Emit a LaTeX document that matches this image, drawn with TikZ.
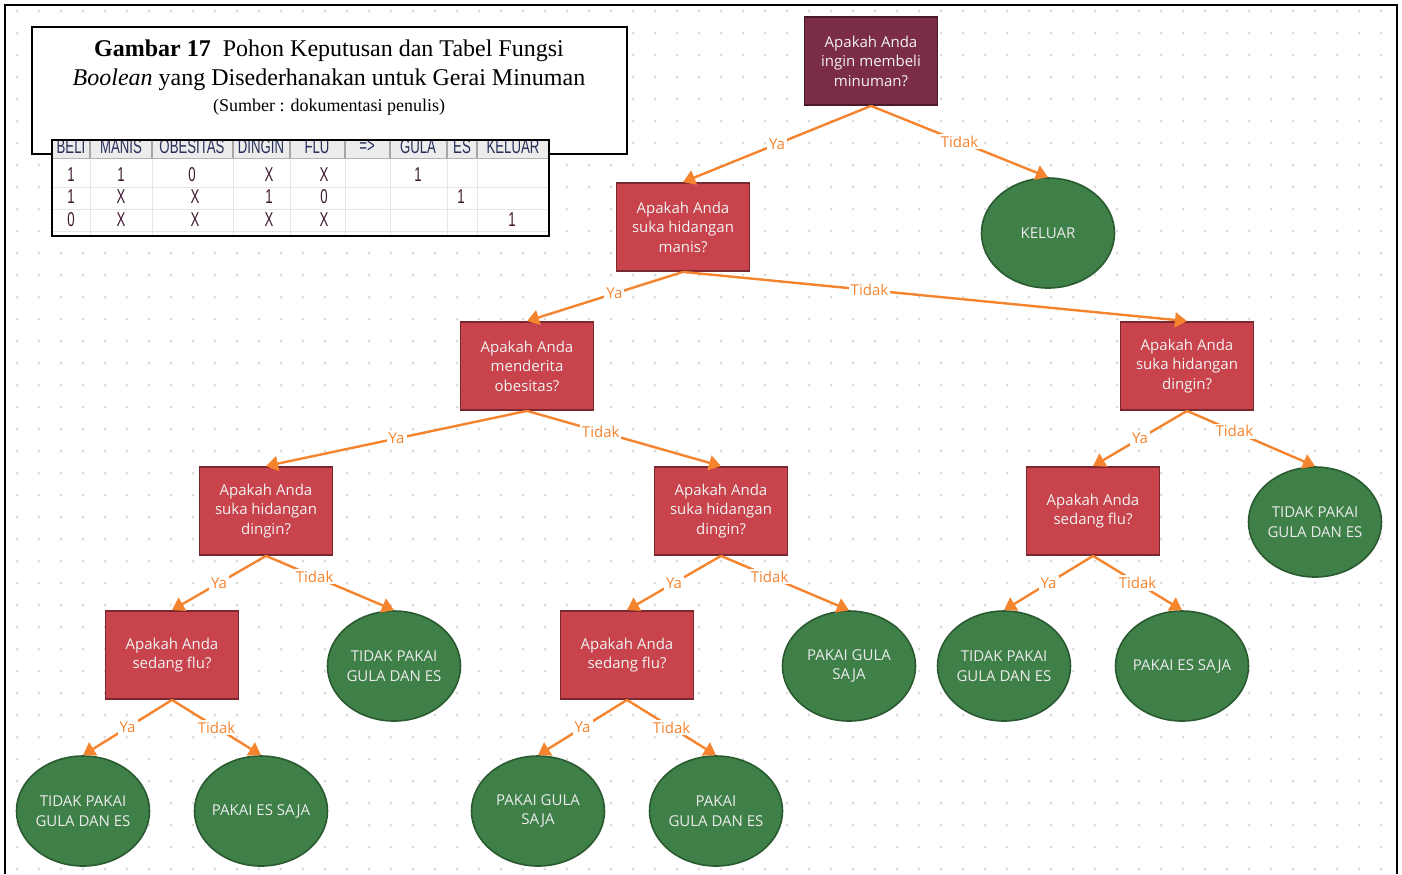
\documentclass[tikz,border=0pt]{standalone}
\usepackage{fontspec}
\setmainfont{Liberation Serif}
\newfontfamily\pohonfont{Open Sans}
\newfontfamily\tabelfont[FakeStretch=0.66]{Liberation Sans}
\usepackage{tikz}
\usetikzlibrary{arrows.meta}
\usetikzlibrary{shapes,backgrounds}
\usetikzlibrary{positioning}
\usetikzlibrary{calc}

\definecolor{marun}{HTML}{7B2D46}
\definecolor{maruntua}{HTML}{4A1A2A}
\definecolor{merah}{HTML}{C8434C}
\definecolor{merahtua}{HTML}{7A2830}
\definecolor{hijau}{HTML}{3F8049}
\definecolor{hijautua}{HTML}{2A5A30}
\definecolor{oranye}{HTML}{F5842F}
\definecolor{titik}{HTML}{D9D9D9}
\definecolor{kepalaisi}{HTML}{ECECEC}
\definecolor{kepalateks}{HTML}{28305A}
\definecolor{selteks}{HTML}{3E1830}

\tikzset{
  tanya/.style={draw=merahtua,line width=0.9pt,fill=merah,minimum width=66.5pt,minimum height=44pt,
    align=center,text=white!95!black,font=\pohonfont\fontsize{7.5}{9.75}\selectfont},
  daun/.style={ellipse,draw=hijautua,line width=0.8pt,fill=hijau,minimum width=66.5pt,minimum height=55pt,
    inner ysep=0pt,inner xsep=-2.5pt,align=center,text=white!92!black,font=\pohonfont\fontsize{7.5}{9.75}\selectfont},
  panah/.style={draw=oranye,line width=1.2pt,-{Triangle[width=7.5pt,length=6pt]}},
  ket/.style={fill=white,text=oranye,inner sep=1pt,font=\pohonfont\fontsize{7.5}{9}\selectfont},
  kepala/.style={text=kepalateks,inner sep=0pt,font=\tabelfont\fontsize{10}{11}\selectfont},
  sel/.style={text=selteks,inner sep=0pt,font=\tabelfont\fontsize{10}{11}\selectfont},
}

\begin{document}
\begin{tikzpicture}[x=0.5pt,y=-0.5pt]
	\useasboundingbox (0,0) rectangle (1402,874);
	\fill[white] (0,0) rectangle (1402,874);
	% titik latar
	\foreach \i in {0,...,62}
	\foreach \j in {0,...,39}
	\fill[titik] (17+22*\i,11+22*\j) circle[radius=0.75pt];
	\draw[line width=1pt] (5,874) -- (5,5) -- (1397,5) -- (1397,874);

	% judul gambar
	\node[draw,fill=white,line width=1pt,minimum width=297.5pt,minimum height=63.5pt] (judul) at (329.5,90.5) {};
	\node[font=\fontsize{12}{14}\selectfont] (J1) at (329,51) {\textbf{Gambar 17}\ \ Pohon Keputusan dan Tabel Fungsi};
	\node[font=\fontsize{12}{14}\selectfont] (J2) at (329,80) {\textit{Boolean} yang Disederhanakan untuk Gerai Minuman};
	\node[font=\fontsize{9}{11}\selectfont] (J3) at (329,107) {(Sumber : dokumentasi penulis)};

	% tabel fungsi boolean
	\fill[white] (52,140) rectangle (549,236);
	\fill[kepalaisi] (52,140) rectangle (549,158);
	\foreach \x in {90,152,233,290,345,390,447,477} {
		\draw[gray!70,line width=0.6pt] (\x,140) -- (\x,158);
		\draw[gray!20,line width=0.5pt] (\x,158) -- (\x,236);
	}
	\foreach \y in {187,209,231}
	\draw[gray!20,line width=0.5pt] (52,\y) -- (549,\y);
	\draw[gray!60,line width=0.5pt] (52,158) -- (549,158);
	\begin{scope}
		\clip (52,140) rectangle (549,236);
		\foreach \x/\t [count=\k] in {71/BELI,121/MANIS,192/OBESITAS,261/DINGIN,317/FLU,367/{=>},418/GULA,462/ES,513/KELUAR}
		\node[kepala] (h\k) at (\x,147) {\t};
	\end{scope}
	\foreach \x/\v [count=\k] in {71/1,121/1,192/0,269/X,324/X,418/1}
	\node[sel] (a\k) at (\x,175) {\v};
	\foreach \x/\v [count=\k] in {71/1,121/X,195/X,269/1,324/0,461/1}
	\node[sel] (b\k) at (\x,197) {\v};
	\foreach \x/\v [count=\k] in {71/0,121/X,195/X,269/X,324/X,512/1}
	\node[sel] (c\k) at (\x,220) {\v};
	\draw[line width=1pt] (52,140) rectangle (549,236);

	% pohon keputusan
	\node[tanya,fill=marun,draw=maruntua] (N1) at (871,61) {Apakah Anda\\ingin membeli\\minuman?};
	\node[tanya] (N2) at (683,227) {Apakah Anda\\suka hidangan\\manis?};
	\node[daun] (L1) at (1048,233) {KELUAR};
	\node[tanya] (N3) at (527,366) {Apakah Anda\\menderita\\obesitas?};
	\node[tanya] (N4) at (1187,366) {Apakah Anda\\suka hidangan\\dingin?};
	\node[tanya] (N5) at (266,511) {Apakah Anda\\suka hidangan\\dingin?};
	\node[tanya] (N6) at (721,511) {Apakah Anda\\suka hidangan\\dingin?};
	\node[tanya] (N7) at (1093,511) {Apakah Anda\\sedang flu?};
	\node[daun] (L2) at (1315,522) {TIDAK PAKAI\\GULA DAN ES};
	\node[tanya] (N8) at (172,655) {Apakah Anda\\sedang flu?};
	\node[daun] (L3) at (394,666) {TIDAK PAKAI\\GULA DAN ES};
	\node[tanya] (N9) at (627,655) {Apakah Anda\\sedang flu?};
	\node[daun] (L4) at (849,666) {PAKAI GULA\\SAJA};
	\node[daun] (L5) at (1004,666) {TIDAK PAKAI\\GULA DAN ES};
	\node[daun] (L6) at (1182,666) {PAKAI ES SAJA};
	\node[daun] (L7) at (83,811) {TIDAK PAKAI\\GULA DAN ES};
	\node[daun] (L8) at (261,811) {PAKAI ES SAJA};
	\node[daun] (L9) at (538,811) {PAKAI GULA\\SAJA};
	\node[daun] (L10) at (716,811) {PAKAI\\GULA DAN ES};

	\draw[panah] (N1.south) -- node[ket]{Ya} (N2.north);
	\draw[panah] (N1.south) -- node[ket]{Tidak} (L1.north);
	\draw[panah] (N2.south) -- node[ket,pos=0.44]{Ya} (N3.north);
	\draw[panah] (N2.south) -- node[ket,pos=0.37]{Tidak} (N4.north);
	\draw[panah] (N3.south) -- node[ket]{Ya} (N5.north);
	\draw[panah] (N3.south) -- node[ket,pos=0.38]{Tidak} (N6.north);
	\draw[panah] (N4.south) -- node[ket]{Ya} (N7.north);
	\draw[panah] (N4.south) -- node[ket,pos=0.37]{Tidak} (L2.north);
	\draw[panah] (N5.south) -- node[ket]{Ya} (N8.north);
	\draw[panah] (N5.south) -- node[ket,pos=0.38]{Tidak} (L3.north);
	\draw[panah] (N6.south) -- node[ket]{Ya} (N9.north);
	\draw[panah] (N6.south) -- node[ket,pos=0.38]{Tidak} (L4.north);
	\draw[panah] (N7.south) -- node[ket]{Ya} (L5.north);
	\draw[panah] (N7.south) -- node[ket]{Tidak} (L6.north);
	\draw[panah] (N8.south) -- node[ket]{Ya} (L7.north);
	\draw[panah] (N8.south) -- node[ket]{Tidak} (L8.north);
	\draw[panah] (N9.south) -- node[ket]{Ya} (L9.north);
	\draw[panah] (N9.south) -- node[ket]{Tidak} (L10.north);
\end{tikzpicture}
\end{document}
